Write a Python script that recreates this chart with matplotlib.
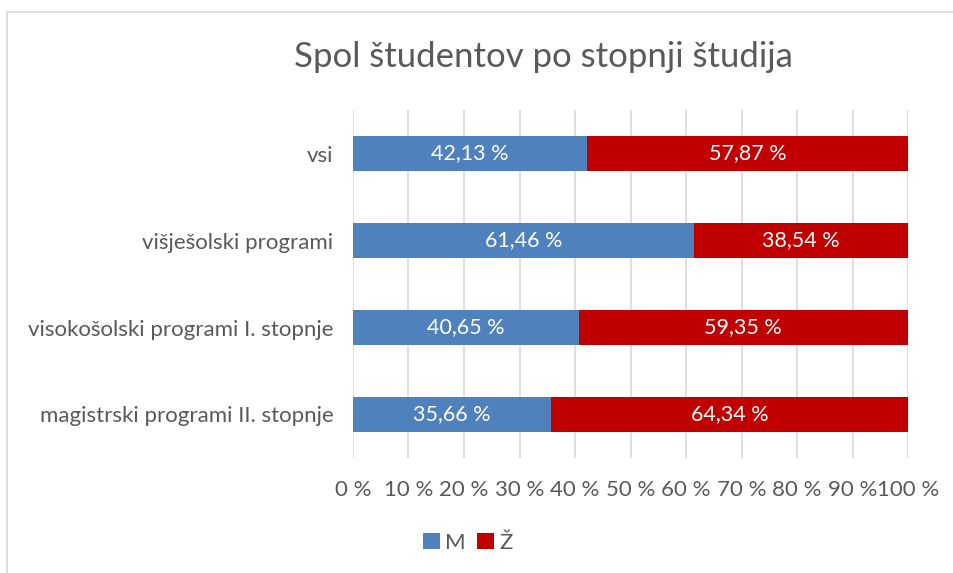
import matplotlib.pyplot as plt
from matplotlib.patches import Rectangle

# data (top to bottom as shown)
categories = ["vsi", "višješolski programi", "visokošolski programi I. stopnje",
              "magistrski programi II. stopnje"]
m_vals = [42.13, 61.46, 40.65, 35.66]
z_vals = [57.87, 38.54, 59.35, 64.34]
ticks = [0, 10, 20, 30, 40, 50, 60, 70, 80, 90, 100]

BLUE = "#4F81BD"
RED = "#C00000"
GREY = "#595959"

plt.rcParams["font.family"] = ["Lato", "DejaVu Sans"]

fig = plt.figure(figsize=(9.54, 5.73), dpi=100)
ax = fig.add_axes([353 / 954, 1 - 458 / 573, 555 / 954, 348 / 573])

# outer chart border (runs off the right and bottom edge like the screenshot)
fig.patches.append(Rectangle((7 / 954, -0.05), 1.1, 1 - 12 / 573 + 0.05,
                             transform=fig.transFigure, fill=False,
                             edgecolor="#d9d9d9", linewidth=1.2))

y = list(range(len(categories)))
ax.barh(y, m_vals, height=0.4, color=BLUE, label="M", zorder=3)
ax.barh(y, z_vals, left=m_vals, height=0.4, color=RED, label="Ž", zorder=3)

for i in y:
    ax.text(m_vals[i] / 2, i, f"{m_vals[i]:.2f} %".replace(".", ","),
            ha="center", va="center", color="white", fontsize=15.5, zorder=4)
    ax.text(m_vals[i] + z_vals[i] / 2, i, f"{z_vals[i]:.2f} %".replace(".", ","),
            ha="center", va="center", color="white", fontsize=15.5, zorder=4)

ax.set_xlim(0, 100)
ax.set_ylim(len(categories) - 0.5, -0.5)
ax.set_xticks(ticks)
ax.set_xticklabels([f"{t} %" for t in ticks])
ax.set_yticks(y)
ax.set_yticklabels(categories)
ax.tick_params(axis="both", length=0, labelsize=16, colors=GREY)
ax.tick_params(axis="x", pad=16)
ax.tick_params(axis="y", pad=14)
ax.grid(axis="x", color="#d9d9d9", linewidth=1.2, zorder=0)
for s in ax.spines.values():
    s.set_visible(False)

fig.text(543 / 954, 1 - 57 / 573, "Spol študentov po stopnji študija",
         ha="center", va="center", fontsize=25, color=GREY)

fig.legend(loc="center", bbox_to_anchor=(468 / 954, 1 - 543 / 573), ncol=2,
           frameon=False, fontsize=16, labelcolor=GREY, handlelength=0.75,
           handleheight=0.75, handletextpad=0.25, columnspacing=0.5)

fig.savefig("out.png", dpi=100)
